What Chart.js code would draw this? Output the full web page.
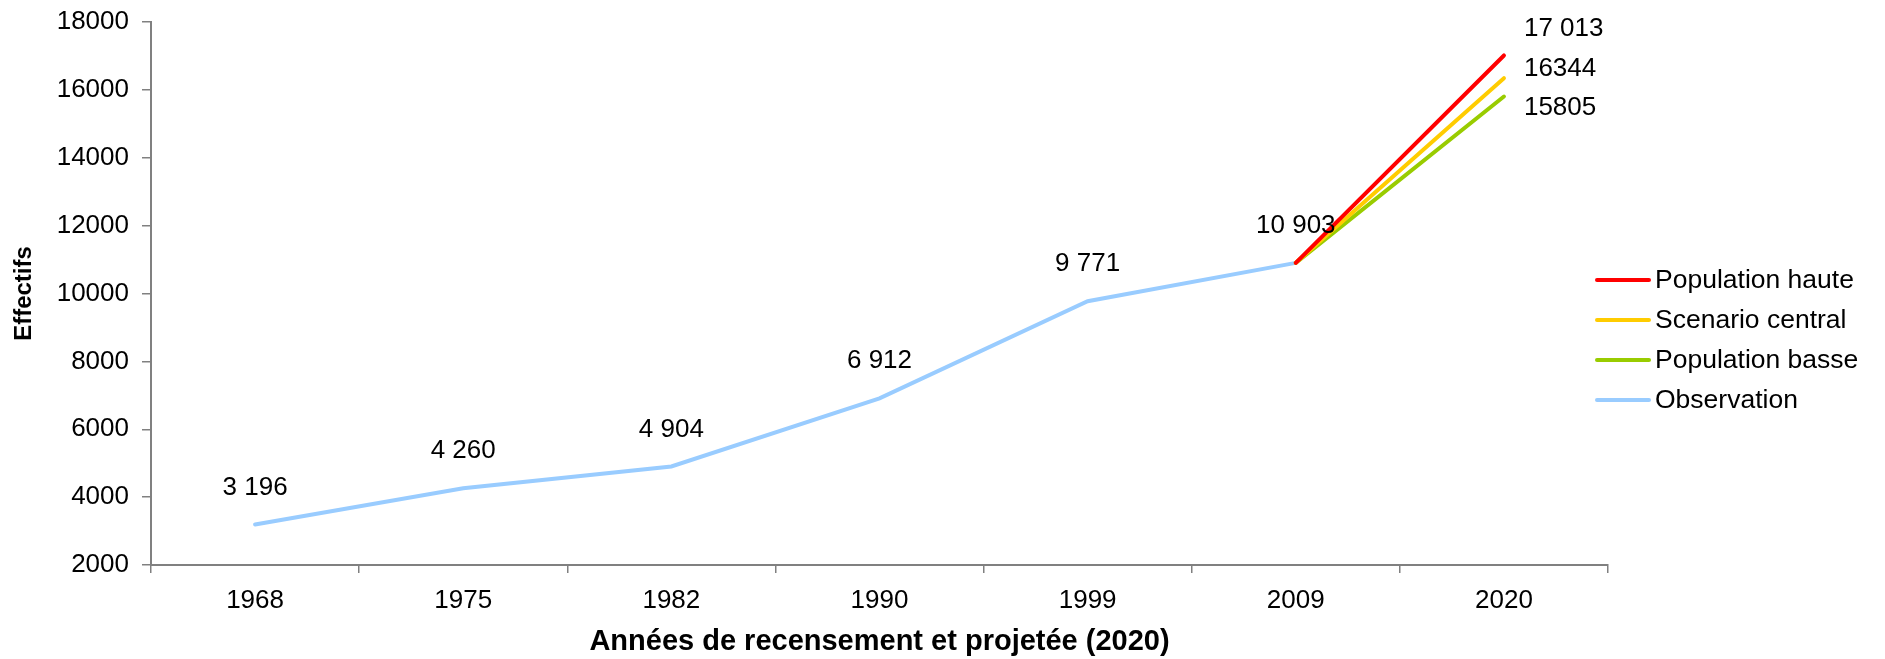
<!DOCTYPE html>
<html>
<head>
<meta charset="utf-8">
<script src="https://cdn.jsdelivr.net/npm/chart.js@4.4.1/dist/chart.umd.min.js"></script>
<style>
    html, body { margin: 0; padding: 0; background: #fff; }
</style>
</head>
<body>
<canvas id="myChart" width="1885" height="659"></canvas>
<script>
// data
const years = ['1968', '1975', '1982', '1990', '1999', '2009', '2020'];
const observation = [3196, 4260, 4904, 6912, 9771, 10903, null];
const popHaute = [null, null, null, null, null, 10903, 17013];
const scenarioCentral = [null, null, null, null, null, 10903, 16344];
const popBasse = [null, null, null, null, null, 10903, 15805];
const yMin = 2000, yMax = 18000, yStep = 2000;

function fmt(v, spaced) {
    const s = String(v);
    return spaced ? s.replace(/\B(?=(\d{3})+(?!\d))/g, ' ') : s;
}

// value labels drawn next to the points
const valueLabels = {
    id: 'valueLabels',
    afterDatasetsDraw(chart, args, opts) {
        const ctx = chart.ctx;
        ctx.save();
        ctx.font = opts.font;
        ctx.fillStyle = '#000';
        ctx.textBaseline = 'middle';
        chart.data.datasets.forEach((ds, i) => {
            const lab = ds.valueLabel;
            if (!lab) return;
            const meta = chart.getDatasetMeta(i);
            ds.data.forEach((v, j) => {
                if (v == null || lab.only.indexOf(j) < 0) return;
                const pt = meta.data[j];
                ctx.textAlign = lab.align;
                ctx.fillText(fmt(v, lab.spaced), pt.x + lab.dx, pt.y + lab.dy);
            });
        });
        ctx.restore();
    }
};

// legend on the right, line + text
const sideLegend = {
    id: 'sideLegend',
    afterDraw(chart, args, opts) {
        const ctx = chart.ctx;
        ctx.save();
        ctx.font = opts.font;
        ctx.textBaseline = 'middle';
        ctx.textAlign = 'left';
        chart.data.datasets.forEach((ds, i) => {
            const y = opts.top + i * opts.rowGap;
            ctx.strokeStyle = ds.borderColor;
            ctx.lineWidth = 4;
            ctx.lineCap = 'round';
            ctx.beginPath();
            ctx.moveTo(opts.left, y);
            ctx.lineTo(opts.left + opts.lineLen, y);
            ctx.stroke();
            ctx.fillStyle = '#000';
            ctx.fillText(ds.label, opts.left + opts.lineLen + 6, y + 1);
        });
        ctx.restore();
    }
};

const data = {
    labels: years,
    datasets: [{
        label: 'Population haute',
        data: popHaute,
        borderColor: '#FF0000',
        valueLabel: { only: [6], align: 'left', dx: 20, dy: -27, spaced: true }
    }, {
        label: 'Scenario central',
        data: scenarioCentral,
        borderColor: '#FFCC00',
        valueLabel: { only: [6], align: 'left', dx: 20, dy: -9, spaced: false }
    }, {
        label: 'Population basse',
        data: popBasse,
        borderColor: '#99CC00',
        valueLabel: { only: [6], align: 'left', dx: 20, dy: 11, spaced: false }
    }, {
        label: 'Observation',
        data: observation,
        borderColor: '#99CCFF',
        valueLabel: { only: [0, 1, 2, 3, 4, 5], align: 'center', dx: 0, dy: -37, spaced: true }
    }]
};

const config = {
    type: 'line',
    data,
    options: {
        responsive: false,
        animation: false,
        layout: { padding: { top: 22, right: 277, left: 0, bottom: 0 } },
        elements: {
            line: { borderWidth: 4, tension: 0, borderCapStyle: 'round' },
            point: { radius: 0, hoverRadius: 0 }
        },
        scales: {
            x: {
                type: 'category',
                offset: true,
                grid: { offset: true, drawOnChartArea: false, color: '#808080', tickLength: 8, lineWidth: 1.5 },
                border: { color: '#808080', width: 2 },
                ticks: { color: '#000', font: { family: 'Liberation Sans', size: 26 }, padding: 12, maxRotation: 0 },
                title: {
                    display: true,
                    text: 'Années de recensement et projetée (2020)',
                    color: '#000',
                    font: { family: 'Liberation Sans', size: 29, weight: 'bold' },
                    padding: { top: 0, bottom: 0 }
                },
                afterFit(scale) { scale.height = 94; }
            },
            y: {
                min: yMin,
                max: yMax,
                grid: { drawOnChartArea: false, color: '#808080', tickLength: 9, lineWidth: 1.5 },
                border: { color: '#808080', width: 2 },
                ticks: {
                    stepSize: yStep,
                    color: '#000',
                    padding: 13,
                    // small lineHeight so the top label does not push the plot down
                    font: { family: 'Liberation Sans', size: 26, lineHeight: 0.5 },
                    callback: (v) => String(v)
                },
                title: {
                    display: true,
                    text: 'Effectifs',
                    color: '#000',
                    font: { family: 'Liberation Sans', size: 24, weight: 'bold' },
                    padding: { top: 10, bottom: 0 }
                },
                afterFit(scale) { scale.width = 151; }
            }
        },
        plugins: {
            legend: { display: false },
            tooltip: { enabled: false },
            valueLabels: { font: '26px "Liberation Sans"' },
            sideLegend: { font: '26.5px "Liberation Sans"', left: 1597, lineLen: 52, top: 280, rowGap: 40 }
        }
    },
    plugins: [valueLabels, sideLegend]
};

const myChart = new Chart(document.getElementById('myChart'), config);
</script>
</body>
</html>
